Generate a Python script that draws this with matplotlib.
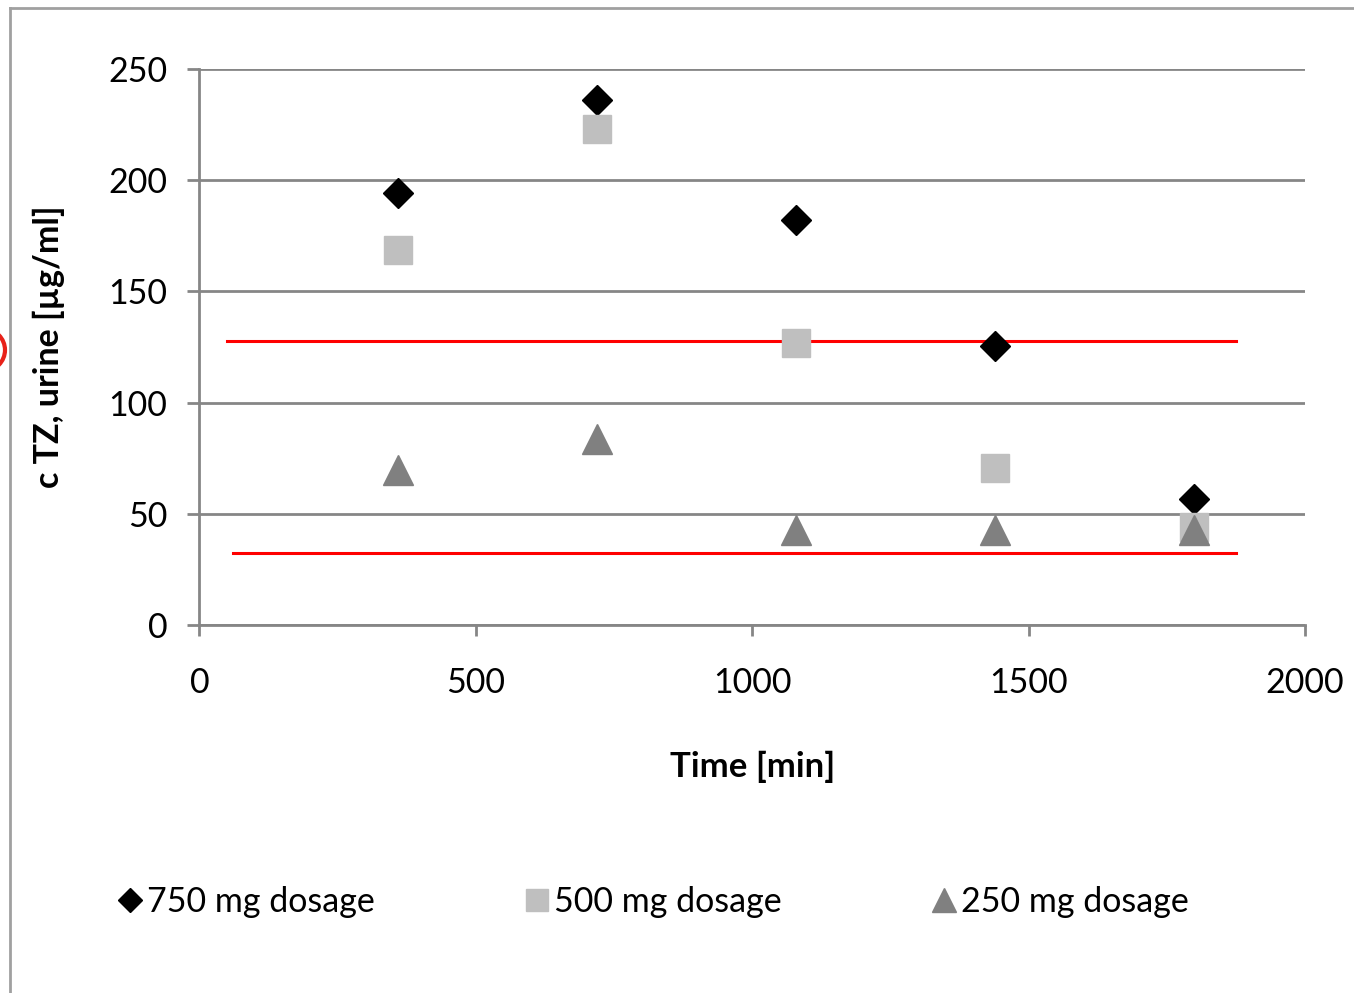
import matplotlib
matplotlib.use("Agg")
import matplotlib.pyplot as plt
from matplotlib.lines import Line2D
from matplotlib.patches import Circle

plt.rcParams['font.family'] = ['Lato', 'DejaVu Sans']

# sampling times [min]
time = [360, 720, 1080, 1440, 1800]

# concentration in urine [ug/ml]
dose_750 = [194, 236, 182, 125.5, 57]
dose_500 = [168.5, 223, 127, 70.5, 44]
dose_250 = [70, 83.5, 43, 43, 43]

# reference limits (red lines)
upper_limit = 127.6
lower_limit = 32.5
upper_span = [49, 1876]
lower_span = [60, 1876]

grid_col = '#868686'

fig = plt.figure(figsize=(13.54, 9.93), dpi=100)
ax = fig.add_axes([0.1473, 0.3701, 0.8165, 0.5609])

ax.set_xlim(0, 2000)
ax.set_ylim(0, 250)
ax.set_xticks([0, 500, 1000, 1500, 2000])
ax.set_yticks([0, 50, 100, 150, 200, 250])
ax.yaxis.grid(True, color=grid_col, linewidth=2)
ax.set_axisbelow(True)
for s in ['top', 'right']:
    ax.spines[s].set_visible(False)
for s in ['left', 'bottom']:
    ax.spines[s].set_color(grid_col)
    ax.spines[s].set_linewidth(2)
ax.tick_params(axis='y', length=9, width=2, color=grid_col, pad=14, labelsize=24.5)
ax.tick_params(axis='x', length=8, width=2, color=grid_col, pad=22, labelsize=24.5)

ax.plot(upper_span, [upper_limit, upper_limit], color='#ff0000', linewidth=2.2, zorder=2)
ax.plot(lower_span, [lower_limit, lower_limit], color='#ff0000', linewidth=2.2, zorder=2)

ax.plot(time, dose_750, linestyle='none', marker='D', markersize=15.5,
        color='black', label='750 mg dosage', zorder=3, clip_on=False)
ax.plot(time, dose_500, linestyle='none', marker='s', markersize=20,
        color='#bfbfbf', label='500 mg dosage', zorder=3, clip_on=False)
ax.plot(time, dose_250, linestyle='none', marker='^', markersize=22,
        color='#808080', label='250 mg dosage', zorder=4, clip_on=False)

ax.set_xlabel('Time [min]', fontsize=25, fontweight='bold', labelpad=37)
ax.set_ylabel('c TZ, urine [µg/ml]', fontsize=24.5, fontweight='bold', labelpad=31)

handles, labels = ax.get_legend_handles_labels()
leg = fig.legend(handles, labels, loc='center', bbox_to_anchor=(0.482, 0.092),
                 ncol=3, frameon=False, fontsize=24.5, handlelength=0.8,
                 handletextpad=0.12, columnspacing=4.35, markerscale=0.8)

# outer frame of the pasted chart
fig.add_artist(Line2D([10 / 1354, 10 / 1354], [0, 1 - 8 / 993], color='#a0a0a0', linewidth=2))
fig.add_artist(Line2D([10 / 1354, 1], [1 - 8 / 993, 1 - 8 / 993], color='#a0a0a0', linewidth=2))
# bit of a red circle mark cut off at the left edge
fig.add_artist(Circle((-16, 993 - 350), 21, transform=None, fill=False,
                      edgecolor='#e8221a', linewidth=3))

fig.savefig('out.png', dpi=100)
